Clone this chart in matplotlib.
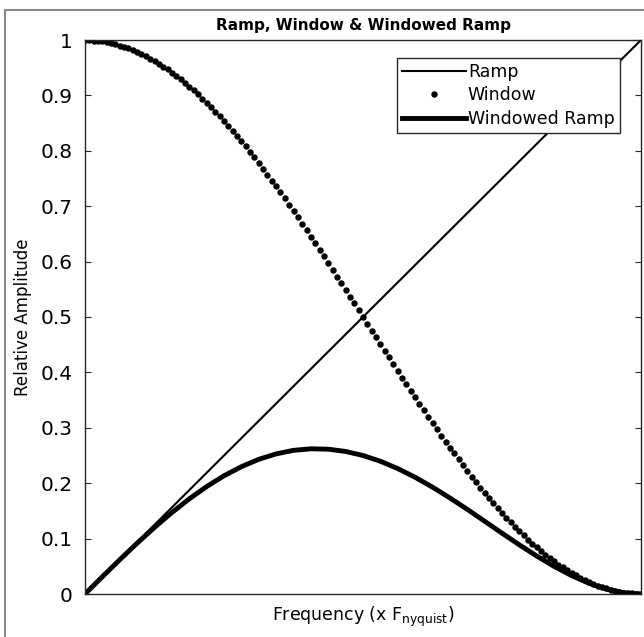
import numpy as np
import matplotlib
matplotlib.use("Agg")
import matplotlib.pyplot as plt
from matplotlib.patches import Rectangle

# ramp end points (frequency as fraction of nyquist)
ramp_x = [0.0, 1.0]
ramp_y = [0.0, 1.0]

# window samples (129 points, 0 .. nyquist)
window_y = [
    1.000, 1.000, 0.999, 0.999, 0.998, 0.996, 0.995, 0.993, 0.990, 0.988,
    0.985, 0.982, 0.978, 0.975, 0.971, 0.966, 0.962, 0.957, 0.952, 0.947,
    0.941, 0.935, 0.929, 0.922, 0.916, 0.909, 0.902, 0.894, 0.887, 0.879,
    0.870, 0.862, 0.854, 0.845, 0.836, 0.827, 0.817, 0.808, 0.798, 0.788,
    0.778, 0.768, 0.757, 0.746, 0.736, 0.725, 0.714, 0.703, 0.691, 0.680,
    0.668, 0.657, 0.645, 0.633, 0.621, 0.610, 0.598, 0.585, 0.573, 0.561,
    0.549, 0.537, 0.525, 0.512, 0.500, 0.488, 0.475, 0.463, 0.451, 0.439,
    0.427, 0.415, 0.402, 0.390, 0.379, 0.367, 0.355, 0.343, 0.332, 0.320,
    0.309, 0.297, 0.286, 0.275, 0.264, 0.254, 0.243, 0.233, 0.222, 0.212,
    0.202, 0.192, 0.183, 0.173, 0.164, 0.155, 0.146, 0.138, 0.130, 0.121,
    0.113, 0.106, 0.098, 0.091, 0.084, 0.078, 0.071, 0.065, 0.059, 0.053,
    0.048, 0.043, 0.038, 0.034, 0.029, 0.025, 0.022, 0.018, 0.015, 0.012,
    0.010, 0.007, 0.005, 0.004, 0.002, 0.001, 0.001, 0.000, 0.000,
]

# windowed ramp, 33 points
windowed_y = [
    0.0000, 0.0312, 0.0619, 0.0917, 0.1202, 0.1470, 0.1717, 0.1939, 0.2134,
    0.2298, 0.2431, 0.2529, 0.2593, 0.2621, 0.2614, 0.2573, 0.2500, 0.2396,
    0.2264, 0.2107, 0.1929, 0.1734, 0.1528, 0.1314, 0.1098, 0.0887, 0.0685,
    0.0498, 0.0333, 0.0195, 0.0090, 0.0023, 0.0000,
]

yticks = [0, 0.1, 0.2, 0.3, 0.4, 0.5, 0.6, 0.7, 0.8, 0.9, 1]
ytick_labels = ["0", "0.1", "0.2", "0.3", "0.4", "0.5", "0.6", "0.7", "0.8", "0.9", "1"]

window_x = np.linspace(0, 1, len(window_y))
windowed_x = np.linspace(0, 1, len(windowed_y))

fig = plt.figure(figsize=(6.44, 6.37), dpi=100)
ax = fig.add_axes([85 / 644, 1 - 594 / 637, 556 / 644, 554 / 637])

# grey frame round the figure (right and bottom edges fall outside the picture)
top = 1 - 10 / 637
fig.patches.append(Rectangle((5 / 644, -0.2), 1.5, top + 0.2, transform=fig.transFigure,
                             fill=False, edgecolor="#8a8a8a", linewidth=1.5))

ax.plot(ramp_x, ramp_y, color="black", linewidth=1.5, label="Ramp")
ax.plot(window_x, window_y, linestyle="none", marker="o", markersize=3.6,
        color="black", label="Window")
ax.plot(windowed_x, windowed_y, color="black", linewidth=3.5, label="Windowed Ramp")

ax.set_xlim(0, 1)
ax.set_ylim(0, 1)
ax.set_xticks([])
ax.set_yticks(yticks)
ax.set_yticklabels(ytick_labels, fontsize=14.5)
ax.tick_params(axis="y", direction="in", length=4, right=True, color="#262626", pad=9)
for s in ax.spines.values():
    s.set_color("#262626")
    s.set_linewidth(1.0)

ax.set_title("Ramp, Window & Windowed Ramp", fontsize=11, fontweight="bold", pad=7)
ax.set_ylabel("Relative Amplitude", fontsize=12, labelpad=6)
ax.set_xlabel(r"Frequency (x F$_{\mathrm{nyquist}}$)", fontsize=12.5, labelpad=8)

leg = ax.legend(loc="upper right", bbox_to_anchor=(0.962, 0.9675), borderaxespad=0,
                fontsize=12.5, handlelength=3.7, handletextpad=0.1, labelspacing=0.3,
                borderpad=0.3, fancybox=False, framealpha=1, edgecolor="#262626",
                markerscale=1.0)
leg.get_frame().set_linewidth(1.0)

fig.savefig("out.png", dpi=100)
